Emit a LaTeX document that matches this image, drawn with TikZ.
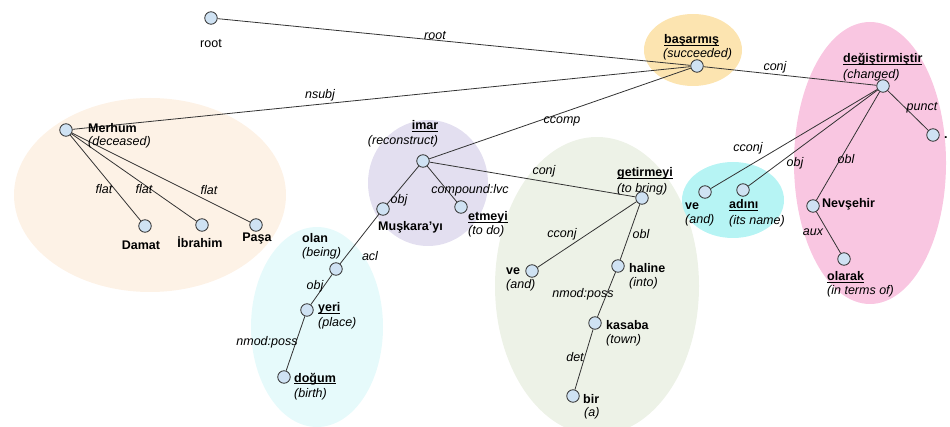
\documentclass[tikz,border=0pt]{standalone}
\usepackage{fontspec}
\setmainfont{Liberation Sans}
\definecolor{edgec}{HTML}{333333}
\definecolor{tokfill}{HTML}{CFE2F3}
\definecolor{cPeach}{HTML}{FDF2E6}
\definecolor{cYellow}{HTML}{FCE4B0}
\definecolor{cPink}{HTML}{F9C6E1}
\definecolor{cLav}{HTML}{E3DFF0}
\definecolor{cLCyan}{HTML}{E6FAFB}
\definecolor{cSage}{HTML}{EDF2E7}
\definecolor{cCyan}{HTML}{B6F4F4}
\newcommand\ulword[1]{\underline{\smash{#1}}}
\begin{document}
\begin{tikzpicture}[x=1pt,y=-1pt,
  tok/.style={circle,draw=edgec,fill=tokfill,minimum size=12.5pt,inner sep=0pt,line width=0.8pt},
  word/.style={font=\fontsize{12.5}{15}\selectfont\bfseries,inner sep=0pt,anchor=base west},
  gloss/.style={font=\fontsize{12.5}{15}\selectfont\itshape,inner sep=0pt,anchor=base west},
  plain/.style={font=\fontsize{12.5}{15}\selectfont,inner sep=0pt,anchor=base},
  rel/.style={font=\fontsize{12.5}{15}\selectfont\itshape,inner sep=0pt,anchor=base},
  dep/.style={draw=edgec,line width=0.8pt}]
\useasboundingbox (0,0) rectangle (950,427);
% background groups
\fill[cPeach] (150,195) ellipse [x radius=136, y radius=97];
\fill[cYellow] (693,50) ellipse [x radius=49, y radius=36];
\fill[cPink] (870,163) ellipse [x radius=76, y radius=141];
\fill[cLav] (428,183) ellipse [x radius=60, y radius=63];
\fill[cLCyan] (317,327) ellipse [x radius=66, y radius=100];
\fill[cSage] (597,286) ellipse [x radius=102, y radius=149];
\fill[cCyan] (733,200) ellipse [x radius=51, y radius=38];
% tokens
\node[tok] (root) at (211,18) {};
\node[tok] (basarmis) at (697,66) {};
\node[tok] (degis) at (883,86) {};
\node[tok] (punct) at (933,135) {};
\node[tok] (merhum) at (66,130) {};
\node[tok] (damat) at (145,226) {};
\node[tok] (ibrahim) at (202,225) {};
\node[tok] (pasa) at (256,225) {};
\node[tok] (imar) at (423,161) {};
\node[tok] (muskara) at (383,209) {};
\node[tok] (etmeyi) at (461,207) {};
\node[tok] (getirmeyi) at (642,198) {};
\node[tok] (olan) at (336,269) {};
\node[tok] (yeri) at (307,310) {};
\node[tok] (dogum) at (284,377) {};
\node[tok] (veA) at (532,271) {};
\node[tok] (haline) at (618,266) {};
\node[tok] (kasaba) at (595,323) {};
\node[tok] (bir) at (573,396) {};
\node[tok] (veB) at (705,192) {};
\node[tok] (adini) at (743,190) {};
\node[tok] (nevsehir) at (813,206) {};
\node[tok] (olarak) at (844,259) {};
% dependencies
\draw[dep] (root) -- (basarmis);
\draw[dep] (basarmis) -- (merhum);
\draw[dep] (basarmis) -- (imar);
\draw[dep] (basarmis) -- (degis);
\draw[dep] (merhum) -- (damat);
\draw[dep] (merhum) -- (ibrahim);
\draw[dep] (merhum) -- (pasa);
\draw[dep] (imar) -- (muskara);
\draw[dep] (imar) -- (etmeyi);
\draw[dep] (imar) -- (getirmeyi);
\draw[dep] (muskara) -- (olan);
\draw[dep] (olan) -- (yeri);
\draw[dep] (yeri) -- (dogum);
\draw[dep] (getirmeyi) -- (veA);
\draw[dep] (getirmeyi) -- (haline);
\draw[dep] (haline) -- (kasaba);
\draw[dep] (kasaba) -- (bir);
\draw[dep] (degis) -- (veB);
\draw[dep] (degis) -- (adini);
\draw[dep] (degis) -- (nevsehir);
\draw[dep] (degis) -- (punct);
\draw[dep] (nevsehir) -- (olarak);
% relation labels
\node[rel] (r-root) at (435,40) {root};
\node[rel] (r-nsubj) at (320,99) {nsubj};
\node[rel] (r-conj1) at (775,71) {conj};
\node[rel] (r-ccomp) at (562,124) {ccomp};
\node[rel] (r-conj2) at (544,175) {conj};
\node[rel] (r-lvc) at (470,194) {compound:lvc};
\node[rel] (r-obj1) at (399,204) {obj};
\node[rel] (r-flat1) at (104,194) {flat};
\node[rel] (r-flat2) at (144,194) {flat};
\node[rel] (r-flat3) at (209,195) {flat};
\node[rel] (r-acl) at (370,261) {acl};
\node[rel] (r-obj2) at (315,290) {obj};
\node[rel] (r-nmod1) at (267,345) {nmod:poss};
\node[rel] (r-cconj1) at (562,238) {cconj};
\node[rel] (r-obl1) at (641,239) {obl};
\node[rel] (r-nmod2) at (583,298) {nmod:poss};
\node[rel] (r-det) at (575,362) {det};
\node[rel] (r-punct) at (922,111) {punct};
\node[rel] (r-cconj2) at (748,152) {cconj};
\node[rel] (r-obj3) at (795,167) {obj};
\node[rel] (r-obl2) at (846,164) {obl};
\node[rel] (r-aux) at (813,236) {aux};
% word labels
\node[plain] (t-root) at (211,48) {root};
\node[word] (w-basarmis) at (664,44) {\ulword{başarmış}};
\node[gloss] (g-basarmis) at (663,58) {(succeeded)};
\node[word] (w-degis) at (843,63) {\ulword{değiştirmiştir}};
\node[gloss] (g-degis) at (843,79) {(changed)};
\node[word] (w-punct) at (944,139) {.};
\node[word] (w-merhum) at (88,133) {Merhum};
\node[gloss] (g-merhum) at (88,146) {(deceased)};
\node[word,anchor=base] (w-damat) at (141,250) {Damat};
\node[word,anchor=base] (w-ibrahim) at (200,248) {İbrahim};
\node[word,anchor=base] (w-pasa) at (257,242) {Paşa};
\node[word,anchor=base] (w-imar) at (425,130) {\ulword{imar}};
\node[gloss,anchor=base] (g-imar) at (403,145) {(reconstruct)};
\node[word] (w-muskara) at (378,231) {Muşkara’yı};
\node[word] (w-etmeyi) at (468,221) {\ulword{etmeyi}};
\node[gloss] (g-etmeyi) at (468,235) {(to do)};
\node[word] (w-getirmeyi) at (617,177) {\ulword{getirmeyi}};
\node[gloss] (g-getirmeyi) at (617,193) {(to bring)};
\node[word] (w-olan) at (302,243) {olan};
\node[gloss] (g-olan) at (302,257) {(being)};
\node[word] (w-yeri) at (318,312) {\ulword{yeri}};
\node[gloss] (g-yeri) at (318,327) {(place)};
\node[word] (w-dogum) at (294,382) {\ulword{doğum}};
\node[gloss] (g-dogum) at (294,397) {(birth)};
\node[word] (w-veA) at (506,275) {ve};
\node[gloss] (g-veA) at (506,289) {(and)};
\node[word] (w-haline) at (629,273) {haline};
\node[gloss] (g-haline) at (629,287) {(into)};
\node[word] (w-kasaba) at (606,330) {kasaba};
\node[gloss] (g-kasaba) at (606,344) {(town)};
\node[word] (w-bir) at (583,403) {bir};
\node[gloss] (g-bir) at (584,416) {(a)};
\node[word] (w-veB) at (685,210) {ve};
\node[gloss] (g-veB) at (685,224) {(and)};
\node[word] (w-adini) at (729,209) {\ulword{adını}};
\node[gloss] (g-adini) at (729,225) {(its name)};
\node[word] (w-nevsehir) at (822,208) {Nevşehir};
\node[word] (w-olarak) at (827,281) {\ulword{olarak}};
\node[gloss] (g-olarak) at (827,295) {(in terms of)};
\end{tikzpicture}
\end{document}
